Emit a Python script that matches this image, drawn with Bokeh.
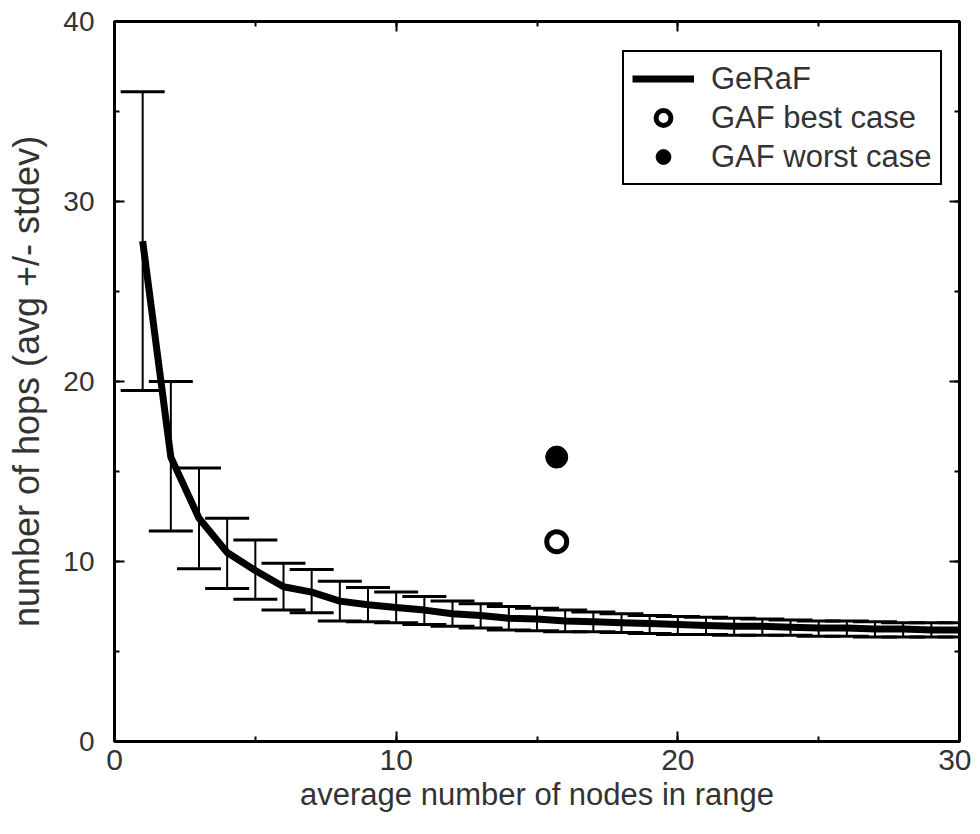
from bokeh.plotting import figure
from bokeh.models import (Range1d, LinearAxis, SingleIntervalTicker, Whisker, TeeHead,
                          ColumnDataSource, Legend, LegendItem, CustomJSTickFormatter)
from bokeh.embed import file_html
from bokeh.resources import INLINE

# ---- data ----
nodes = list(range(1, 31))
hops_mean = [27.8, 15.8, 12.4, 10.5, 9.5, 8.6, 8.3, 7.8, 7.6, 7.45,
             7.3, 7.1, 7.0, 6.85, 6.8, 6.7, 6.65, 6.6, 6.55, 6.5,
             6.45, 6.4, 6.4, 6.35, 6.3, 6.3, 6.25, 6.25, 6.2, 6.2]
hops_upper = [36.1, 20.0, 15.2, 12.4, 11.2, 9.9, 9.55, 8.9, 8.55, 8.3,
              8.05, 7.8, 7.65, 7.5, 7.4, 7.3, 7.2, 7.1, 7.0, 6.95,
              6.9, 6.85, 6.8, 6.75, 6.7, 6.7, 6.65, 6.6, 6.6, 6.6]
hops_lower = [19.5, 11.7, 9.6, 8.5, 7.9, 7.3, 7.15, 6.7, 6.65, 6.6,
              6.5, 6.4, 6.3, 6.2, 6.15, 6.1, 6.1, 6.05, 6.0, 5.95,
              5.95, 5.9, 5.9, 5.9, 5.85, 5.85, 5.8, 5.8, 5.8, 5.8]
gaf_nodes = [15.7]
gaf_best = [11.1]
gaf_worst = [15.8]

x_label = "average number of nodes in range"
y_label = "number of hops (avg +/- stdev)"

FONT = "Liberation Sans"
TXT = "#333333"

p = figure(width=971, height=823, x_range=Range1d(0, 30), y_range=Range1d(0, 40),
           output_backend="svg", toolbar_location=None,
           min_border_left=114, min_border_right=12, min_border_top=21, min_border_bottom=82)
p.grid.visible = False
p.outline_line_color = "black"
p.outline_line_width = 3
p.background_fill_color = "white"
p.border_fill_color = "white"


def style_axis(ax, label_size):
    ax.ticker = SingleIntervalTicker(interval=10, num_minor_ticks=2)
    ax.axis_line_color = "black"
    ax.axis_line_width = 3
    ax.major_tick_in = 10
    ax.major_tick_out = 0
    ax.minor_tick_in = 5
    ax.minor_tick_out = 0
    ax.major_tick_line_width = 2
    ax.minor_tick_line_width = 2
    ax.major_tick_line_color = "black"
    ax.minor_tick_line_color = "black"
    ax.major_label_text_font = FONT
    ax.major_label_text_font_size = label_size
    ax.major_label_text_color = TXT
    ax.axis_label_text_font = FONT
    ax.axis_label_text_font_style = "normal"
    ax.axis_label_text_color = TXT


xax = p.xaxis[0]
style_axis(xax, "30px")
xax.major_label_standoff = 8
xax.axis_label = x_label
xax.axis_label_text_font_size = "31px"
xax.axis_label_standoff = 4

yax = p.yaxis[0]
style_axis(yax, "28px")
yax.major_label_standoff = 20
yax.axis_label = y_label
yax.axis_label_text_font_size = "36px"
yax.axis_label_standoff = 13

blank = CustomJSTickFormatter(code="return ''")
for place in ("above", "right"):
    ax = LinearAxis()
    style_axis(ax, "10px")
    ax.formatter = blank
    ax.major_label_standoff = 0
    p.add_layout(ax, place)

# error bars
src = ColumnDataSource(dict(x=nodes, upper=hops_upper, lower=hops_lower))
p.add_layout(Whisker(source=src, base="x", upper="upper", lower="lower",
                     line_width=2, line_color="black",
                     upper_head=TeeHead(size=44, line_width=3, line_color="black"),
                     lower_head=TeeHead(size=44, line_width=3, line_color="black")))

r_line = p.line(nodes, hops_mean, line_width=7, line_color="black")
r_best = p.scatter(gaf_nodes, gaf_best, marker="circle", size=20,
                   fill_color="white", line_color="black", line_width=5)
r_worst = p.scatter(gaf_nodes, gaf_worst, marker="circle", size=22,
                    fill_color="black", line_color="black")

legend = Legend(items=[LegendItem(label="GeRaF", renderers=[r_line]),
                       LegendItem(label="GAF best case", renderers=[r_best]),
                       LegendItem(label="GAF worst case", renderers=[r_worst])],
                location=(508, 556), glyph_width=62, glyph_height=37, label_height=37,
                label_standoff=17, padding=8, spacing=2, margin=0,
                label_text_font=FONT, label_text_font_size="31px", label_text_color=TXT,
                border_line_color="black", border_line_width=2, border_line_alpha=1.0,
                background_fill_color="white", background_fill_alpha=1.0)
p.add_layout(legend)

open("out.html", "w").write(file_html(p, INLINE))
